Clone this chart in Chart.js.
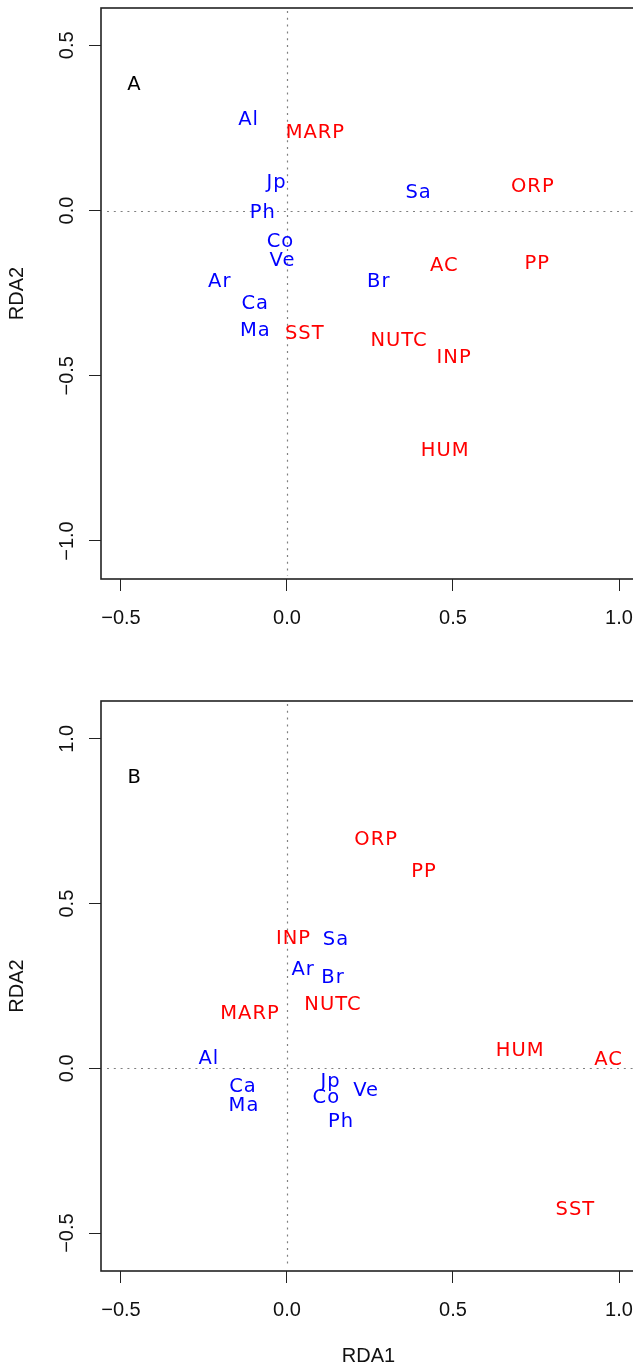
<!DOCTYPE html>
<html><head><meta charset="utf-8">
<script src="https://cdn.jsdelivr.net/npm/chart.js@4.4.1/dist/chart.umd.min.js"></script>
<style>
html,body{margin:0;padding:0;background:#fff;overflow:hidden;}
.panel{width:633px;height:684px;overflow:hidden;position:relative;}
canvas{display:block;}
</style></head><body>
<div class="panel"><canvas id="cA" width="640" height="684"></canvas></div>
<div class="panel"><canvas id="cB" width="640" height="684"></canvas></div>
<script>
// ---------- data ----------
const speciesNames = ['Al','Ar','Br','Ca','Co','Jp','Ma','Ph','Sa','Ve'];
const speciesA_x = [-0.117,-0.204, 0.275,-0.097,-0.021,-0.033,-0.097,-0.074, 0.395,-0.015];
const speciesA_y = [ 0.279,-0.209,-0.211,-0.277,-0.089, 0.090,-0.359,-0.001, 0.060,-0.146];
const speciesB_x = [-0.237, 0.047, 0.137,-0.134, 0.117, 0.130,-0.131, 0.161, 0.146, 0.237];
const speciesB_y = [ 0.036, 0.305, 0.280,-0.050,-0.085,-0.034,-0.109,-0.157, 0.397,-0.063];

const envNames = ['AC','HUM','INP','MARP','NUTC','ORP','PP','SST'];
const envA_x = [ 0.472, 0.475, 0.502, 0.084, 0.336, 0.739, 0.752, 0.052];
const envA_y = [-0.162,-0.722,-0.439, 0.240,-0.388, 0.079,-0.156,-0.366];
const envB_x = [ 0.967, 0.701, 0.018,-0.113, 0.137, 0.267, 0.411, 0.867];
const envB_y = [ 0.031, 0.058, 0.399, 0.172, 0.199, 0.700, 0.601,-0.424];

const panelLetters = ['A','B'];
const panelLetter_x = [-0.461,-0.460];
const panelLetter_y = [ 0.386, 0.887];

const xTickValues = [-0.5, 0, 0.5, 1.0];
const xTickLabels = ['\u22120.5','0.0','0.5','1.0'];
const yTickValuesA = [-1.0, -0.5, 0, 0.5];
const yTickLabelsA = ['\u22121.0','\u22120.5','0.0','0.5'];
const yTickValuesB = [-0.5, 0, 0.5, 1.0];
const yTickLabelsB = ['\u22120.5','0.0','0.5','1.0'];
const xTitle = 'RDA1';
const yTitle = 'RDA2';

// ---------- styling ----------
const LABEL_SIZE = 19.5;
const LABEL_FONT = LABEL_SIZE + 'px "DejaVu Sans"';
const CAP = 0.729 * LABEL_SIZE;
const AXIS_FONT = {family: '"Liberation Sans", Arial, sans-serif', size: 20};

const labelPlugin = {
  id: 'textLabels',
  afterDatasetsDraw(chart) {
    const ctx = chart.ctx;
    chart.data.datasets.forEach((ds, i) => {
      const meta = chart.getDatasetMeta(i);
      ctx.save();
      ctx.font = LABEL_FONT;
      try { ctx.letterSpacing = '1px'; } catch(e) {}
      ctx.fillStyle = ds.textColor;
      ctx.textAlign = 'center';
      ctx.textBaseline = 'alphabetic';
      meta.data.forEach((pt, j) => {
        ctx.fillText(ds.names[j], pt.x + 0.5, pt.y + CAP / 2);
      });
      ctx.restore();
    });
  }
};

const framePlugin = {
  id: 'frame',
  beforeDatasetsDraw(chart) {
    const {ctx, chartArea: a, scales: {x, y}} = chart;
    ctx.save();
    ctx.strokeStyle = '#808080';
    ctx.lineWidth = 1.2;
    ctx.setLineDash([2, 4.8]);
    const x0 = Math.round(x.getPixelForValue(0)) + 0.5;
    const y0 = Math.round(y.getPixelForValue(0)) + 0.5;
    ctx.beginPath();
    ctx.moveTo(x0, a.top + 3); ctx.lineTo(x0, a.bottom - 3);
    ctx.moveTo(a.left + 6, y0); ctx.lineTo(a.right, y0);
    ctx.stroke();
    ctx.restore();
  },
  afterDraw(chart) {
    const {ctx, chartArea: a} = chart;
    ctx.save();
    ctx.strokeStyle = '#222';
    ctx.lineWidth = 1.6;
    ctx.strokeRect(a.left, a.top, a.right - a.left, a.bottom - a.top);
    ctx.restore();
  }
};

function zeroPad(s) { s.paddingLeft = 0; s.paddingRight = 0; s.paddingTop = 0; s.paddingBottom = 0; }

function makePanel(canvasId, sp_x, sp_y, en_x, en_y, letterIdx, yMin, yMax, yVals, yLabels, padTop, xHeight, showXTitle) {
  const mk = (xs, ys) => xs.map((v, i) => ({x: v, y: ys[i]}));
  return new Chart(document.getElementById(canvasId), {
    type: 'scatter',
    data: {
      datasets: [
        {data: mk(sp_x, sp_y), names: speciesNames, textColor: '#0000ff', pointRadius: 0},
        {data: mk(en_x, en_y), names: envNames, textColor: '#ff0000', pointRadius: 0},
        {data: [{x: panelLetter_x[letterIdx], y: panelLetter_y[letterIdx]}], names: [panelLetters[letterIdx]], textColor: '#000000', pointRadius: 0}
      ]
    },
    options: {
      responsive: false, animation: false, devicePixelRatio: 1, events: [],
      layout: {padding: {top: padTop, left: 0, right: 4, bottom: 0}},
      plugins: {legend: {display: false}, tooltip: {enabled: false}},
      scales: {
        x: {
          type: 'linear', min: -0.5602, max: 1.0512,
          afterBuildTicks: s => { s.ticks = xTickValues.map(v => ({value: v})); },
          afterFit: s => { s.height = xHeight; zeroPad(s); },
          grid: {display: true, drawOnChartArea: false, drawTicks: true, tickLength: 12, color: '#222', lineWidth: 1},
          border: {display: false},
          ticks: {autoSkip: false, maxRotation: 0, minRotation: 0, padding: 15, color: '#111', font: AXIS_FONT,
                  callback: v => xTickLabels[xTickValues.indexOf(v)] ?? ''},
          title: {display: showXTitle, text: xTitle, color: '#111', font: AXIS_FONT, padding: {top: 0, bottom: 0}}
        },
        y: {
          type: 'linear', min: yMin, max: yMax,
          afterBuildTicks: s => { s.ticks = yVals.map(v => ({value: v})); },
          afterFit: s => { s.width = 101; zeroPad(s); },
          grid: {display: true, drawOnChartArea: false, drawTicks: true, tickLength: 12, color: '#222', lineWidth: 1},
          border: {display: false},
          ticks: {autoSkip: false, minRotation: 90, maxRotation: 90, crossAlign: 'center', padding: 2, color: '#111', font: AXIS_FONT,
                  callback: v => yLabels[yVals.indexOf(v)] ?? ''},
          title: {display: true, text: yTitle, color: '#111', font: AXIS_FONT, padding: {top: 5, bottom: 0}}
        }
      }
    },
    plugins: [framePlugin, labelPlugin]
  });
}

makePanel('cA', speciesA_x, speciesA_y, envA_x, envA_y, 0, -1.115, 0.613, yTickValuesA, yTickLabelsA, 8, 105, false);
makePanel('cB', speciesB_x, speciesB_y, envB_x, envB_y, 1, -0.615, 1.115, yTickValuesB, yTickLabelsB, 17, 97, true);
</script>
</body></html>
